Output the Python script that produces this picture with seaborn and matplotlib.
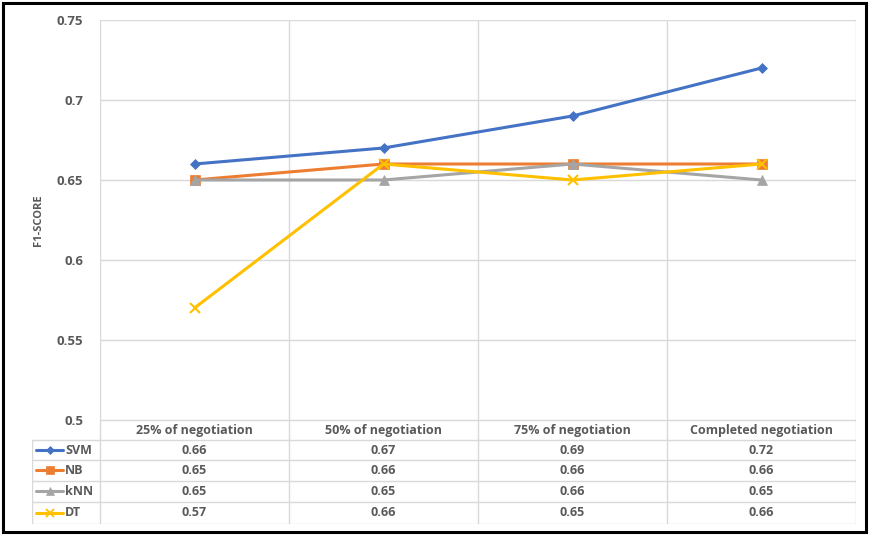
import matplotlib
matplotlib.use("Agg")
import matplotlib.pyplot as plt
from matplotlib.lines import Line2D
from matplotlib.patches import Rectangle
import pandas as pd
import seaborn as sns

categories = ["25% of negotiation", "50% of negotiation", "75% of negotiation", "Completed negotiation"]
svm = [0.66, 0.67, 0.69, 0.72]
nb = [0.65, 0.66, 0.66, 0.66]
knn = [0.65, 0.65, 0.66, 0.65]
dt = [0.57, 0.66, 0.65, 0.66]
series_names = ["SVM", "NB", "kNN", "DT"]
y_ticks = [0.5, 0.55, 0.6, 0.65, 0.7, 0.75]
y_tick_labels = ["0.5", "0.55", "0.6", "0.65", "0.7", "0.75"]

colors = {"SVM": "#4472C4", "NB": "#ED7D31", "kNN": "#A5A5A5", "DT": "#FFC000"}
markers = {"SVM": "D", "NB": "s", "kNN": "^", "DT": "x"}
msizes = {"SVM": 5.5, "NB": 7, "kNN": 7, "DT": 7}
text_col = "#595959"
grid_col = "#D9D9D9"
weight = "bold"

sns.set_theme(style="white")
plt.rcParams["font.family"] = ["Open Sans", "DejaVu Sans"]

values = {"SVM": svm, "NB": nb, "kNN": knn, "DT": dt}
rows = []
for name in series_names:
    for i, v in enumerate(values[name]):
        rows.append({"pos": i, "score": v, "model": name})
df = pd.DataFrame(rows)

W, H = 869, 535
fig = plt.figure(figsize=(W / 100, H / 100), dpi=100)

def px_rect(x0, y0, x1, y1):
    return [x0 / W, 1 - y1 / H, (x1 - x0) / W, (y1 - y0) / H]

# main chart area
ax = fig.add_axes(px_rect(100, 20, 856, 420))
for name in series_names:
    sub = df[df["model"] == name]
    sns.lineplot(data=sub, x="pos", y="score", ax=ax, color=colors[name],
                 marker=markers[name], markersize=msizes[name],
                 markeredgewidth=1.5 if name == "DT" else 0.5,
                 markeredgecolor=colors[name], linewidth=2.2,
                 label=name, legend=False, zorder=3)
ax.set_xlim(-0.5, 3.5)
ax.set_ylim(0.5, 0.75)
ax.set_yticks(y_ticks)
ax.set_yticklabels(y_tick_labels, color=text_col, fontsize=9.5, fontweight=weight)
ax.set_xticks([])
ax.set_xlabel("")
ax.set_ylabel("")
ax.tick_params(axis="y", length=0, pad=12)
for y in y_ticks:
    ax.axhline(y, color=grid_col, lw=1, zorder=0)
for x in [-0.5, 0.5, 1.5, 2.5, 3.5]:
    ax.axvline(x, color=grid_col, lw=1, zorder=0)
for s in ax.spines.values():
    s.set_visible(False)

fig.text(38 / W, 1 - 220 / H, "F1-SCORE", rotation=90, ha="center", va="center",
         color=text_col, fontsize=8, fontweight=weight)

# data table below the chart
left_px = 32
tab = fig.add_axes(px_rect(left_px, 420, 856, 524))
x_left = -0.5 - (100 - left_px) / 189.0
tab.set_xlim(x_left, 3.5)
row_edges = [0, 20, 40, 60, 81, 103]
tab.set_ylim(103, 0)
tab.axis("off")
# horizontal rules
tab.plot([-0.5, 3.5], [row_edges[0]] * 2, color=grid_col, lw=1)
for r in row_edges[1:]:
    tab.plot([x_left, 3.5], [r, r], color=grid_col, lw=1)
# vertical rules
tab.plot([x_left, x_left], [row_edges[1], row_edges[-1]], color=grid_col, lw=1)
for x in [-0.5, 0.5, 1.5, 2.5, 3.5]:
    tab.plot([x, x], [row_edges[0], row_edges[-1]], color=grid_col, lw=1)

for i, c in enumerate(categories):
    tab.text(i, 10.5, c, ha="center", va="center", color=text_col, fontsize=9,
             fontweight=weight)
for r, name in enumerate(series_names):
    yc = (row_edges[r + 1] + row_edges[r + 2]) / 2
    for i, v in enumerate(values[name]):
        tab.text(i, yc, f"{v:.2f}", ha="center", va="center", color=text_col,
                 fontsize=9, fontweight=weight)
    # legend key
    x0 = x_left + 4 / 189
    x1 = x_left + 31 / 189
    tab.add_line(Line2D([x0, x1], [yc, yc], color=colors[name], lw=2.2))
    tab.add_line(Line2D([(x0 + x1) / 2], [yc], color=colors[name], marker=markers[name],
                        markersize=msizes[name] * 0.8, markeredgecolor=colors[name],
                        markeredgewidth=1.3 if name == "DT" else 0.5, lw=0))
    tab.text(x1 + 2 / 189, yc, name, ha="left", va="center", color=text_col,
             fontsize=9, fontweight=weight)

# outer frame
fig.patches.append(Rectangle((3 / W, 3 / H), (866 - 3) / W, (532 - 3) / H,
                             transform=fig.transFigure, fill=False,
                             edgecolor="black", lw=2.2))

fig.savefig("out.png", dpi=100, facecolor="white")
